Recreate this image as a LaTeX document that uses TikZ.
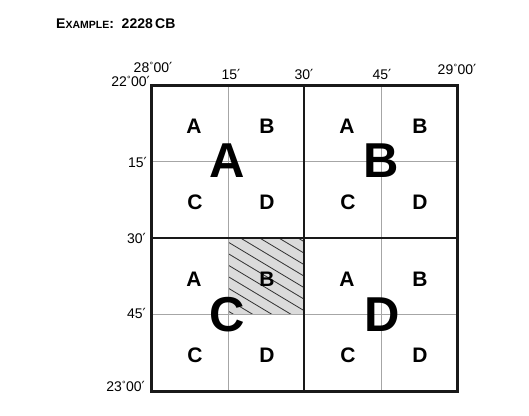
\documentclass[tikz,border=0pt]{standalone}
\usepackage{fontspec}
\setmainfont{Liberation Sans}
\newfontfamily\dvsfont{DejaVu Sans}
\newcommand\myprime{{\dvsfont\char"2032}}
\newcommand\mydeg{\kern0.3pt\raisebox{0.45ex}{\fontsize{9}{9}\selectfont°}\kern0.3pt}
\begin{document}
\begin{tikzpicture}[x=1pt,y=-1pt,
  smalllet/.style={font=\fontsize{21}{21}\selectfont\bfseries, inner sep=0pt},
  biglet/.style={font=\fontsize{49}{49}\selectfont\bfseries, inner sep=0pt},
  lab/.style={font=\fontsize{14}{14}\selectfont, inner sep=0pt},
  gridthin/.style={draw=black!35, line width=1pt},
  gridmid/.style={draw=black!90, line width=2.6pt},
  gridframe/.style={draw=black!90, line width=3pt},
  hatchline/.style={draw=black!80, line width=0.8pt}]
\useasboundingbox (0,0) rectangle (529,415);
% title
\node[anchor=base west, inner sep=0pt, font=\bfseries] (title) at (56,28)
  {{\fontsize{14}{14}\selectfont E}{\fontsize{10.5}{10}\selectfont XAMPLE}{\fontsize{14}{14}\selectfont:\ \ 2228\,CB}};
% hatched cell
\fill[black!14] (228,238) rectangle (304,314);
\begin{scope}
  \clip (228,238) rectangle (304,314);
  \foreach \k in {-6,...,6}
    \draw[hatchline] (228,242+11.5*\k) -- (304,242+11.5*\k+45.6);
\end{scope}
% thin grid
\draw[gridthin] (228,85) -- (228,391);
\draw[gridthin] (381,85) -- (381,391);
\draw[gridthin] (151,161.5) -- (457,161.5);
\draw[gridthin] (151,314.5) -- (457,314.5);
% thick grid
\draw[gridmid] (304,85) -- (304,391);
\draw[gridmid] (151,238) -- (457,238);
\draw[gridframe] (151,85) rectangle (457,391);
% small letters
\foreach \ox/\oy/\q in {0/0/1,153/0/2,0/153/3,153/153/4}{
  \node[smalllet] (a\q) at (194+\ox,126+\oy) {A};
  \node[smalllet] (b\q) at (267+\ox,126+\oy) {B};
  \node[smalllet] (c\q) at (195+\ox,202+\oy) {C};
  \node[smalllet] (d\q) at (267+\ox,202+\oy) {D};
}
% big letters
\node[biglet] (bigA) at (227,161) {A};
\node[biglet] (bigB) at (381,161) {B};
\node[biglet] (bigC) at (227,315) {C};
\node[biglet] (bigD) at (382,315) {D};
% top labels
\node[lab, anchor=base] (t15) at (231,79) {15\myprime};
\node[lab, anchor=base] (t30) at (304,79) {30\myprime};
\node[lab, anchor=base] (t45) at (382,79) {45\myprime};
\node[lab, anchor=base] (t29) at (457,74) {29\mydeg 00\myprime};
\node[lab, anchor=base] (t28) at (153,72) {28\mydeg 00\myprime};
\node[lab, anchor=base east] (l22) at (150,86) {22\mydeg 00\myprime};
% left labels
\node[lab, anchor=base east] (l15) at (147,167) {15\myprime};
\node[lab, anchor=base east] (l30) at (146,243) {30\myprime};
\node[lab, anchor=base east] (l45) at (146,318) {45\myprime};
\node[lab, anchor=base east] (l23) at (145,391) {23\mydeg 00\myprime};
\end{tikzpicture}
\end{document}
